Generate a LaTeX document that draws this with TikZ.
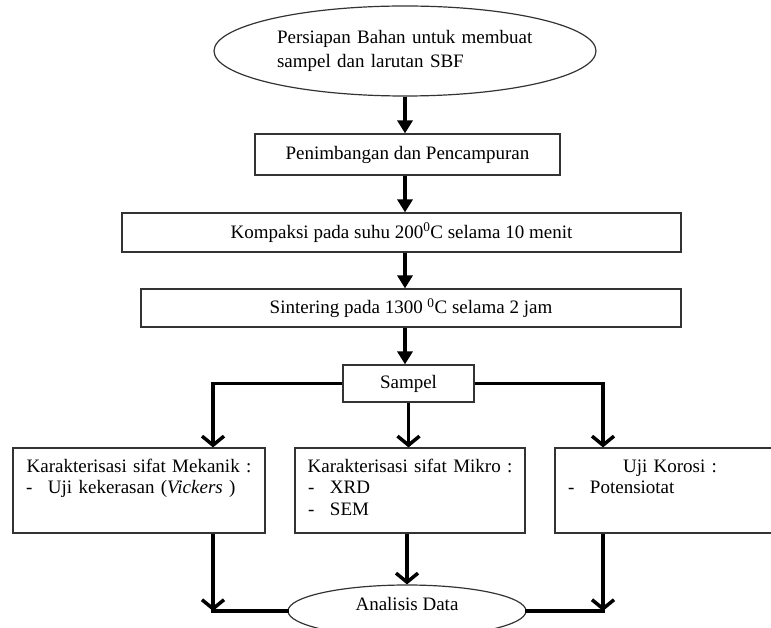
\documentclass[tikz,border=0pt]{standalone}
\usepackage{fontspec}
\setmainfont{Liberation Serif}
\usetikzlibrary{arrows.meta,shapes.geometric,positioning}
\newcommand{\itm}[1]{\makebox[\linewidth][l]{\makebox[22pt][l]{-}#1}}
\newcommand{\hd}[1]{\makebox[\linewidth]{#1}}

\begin{document}
\begin{tikzpicture}[x=1pt,y=-1pt,
  every node/.style={font=\fontsize{19}{21.5}\selectfont},
  box/.style={draw=black!80,line width=1.2pt,rectangle,inner sep=0pt,minimum height=38pt},
  oval/.style={draw=black!80,line width=1.2pt,ellipse,inner sep=0pt},
  tbox/.style={box,minimum height=85pt,inner xsep=13pt,text width=#1,align=center},
  arr/.style={-{Triangle[length=13pt,width=15pt]},line width=3.5pt},
  arrb/.style={-{Straight Barb[length=9pt,width=22pt]},line width=3.5pt},
  link/.style={line width=3.5pt,line cap=rect}]
  \useasboundingbox (0,0) rectangle (771,628);
  \node[oval,minimum width=382pt,minimum height=90pt,text width=256pt,align=left] (prep) at (405,51) {Persiapan Bahan untuk membuat\\[2pt]sampel dan larutan SBF};
  \node[box,minimum width=305pt,minimum height=41pt] (weigh) at (407.5,154.5) {Penimbangan dan Pencampuran};
  \node[box,minimum width=559pt,minimum height=39pt] (compact) at (401.5,232.5) {Kompaksi pada suhu 200\textsuperscript{0}C selama 10 menit};
  \node[box,minimum width=540pt] (sinter) at (411,308) {Sintering pada 1300 \textsuperscript{0}C selama 2 jam};
  \node[box,minimum width=131pt,minimum height=37pt] (sampel) at (408.5,383.5) {Sampel};
  \node[tbox=226pt] (mech) at (139,490.5) {\hd{Karakterisasi sifat Mekanik :}\\ \itm{Uji kekerasan (\textit{Vickers} )}\\ \strut};
  \node[tbox=204pt] (micro) at (410,490.5) {\hd{Karakterisasi sifat Mikro :}\\ \itm{XRD}\\ \itm{SEM}\strut};
  \node[tbox=204pt] (koro) at (670,490.5) {\hd{Uji Korosi :}\\ \itm{Potensiotat}\\ \strut};
  \node[oval,minimum width=238pt,minimum height=52pt,text height=13pt,text depth=15pt] (anl) at (407,611) {Analisis Data};
  % main line
  \draw[arr] (prep.south) -- (prep.south |- weigh.north);
  \draw[arr] (weigh.south -| prep) -- (prep |- compact.north);
  \draw[arr] (compact.south -| prep) -- (prep |- sinter.north);
  \draw[arr] (sinter.south -| prep) -- (prep |- sampel.north);
  % branches
  \draw[arrb] (sampel.west) -| ([xshift=74pt]mech.north);
  \draw[arrb] (sampel.south) -- (sampel.south |- micro.north);
  \draw[arrb] (sampel.east) -| ([xshift=-67pt]koro.north);
  % to analysis
  \draw[arrb] ([xshift=74pt]mech.south) -- ([xshift=74pt]mech.south |- anl.west);
  \draw[link] ([xshift=74pt]mech.south |- anl.west) -- (anl.west);
  \draw[arrb] (micro.south -| anl) -- (anl.north);
  \draw[arrb] ([xshift=-67pt]koro.south) -- ([xshift=-67pt]koro.south |- anl.east);
  \draw[link] ([xshift=-67pt]koro.south |- anl.east) -- (anl.east);
\end{tikzpicture}
\end{document}
